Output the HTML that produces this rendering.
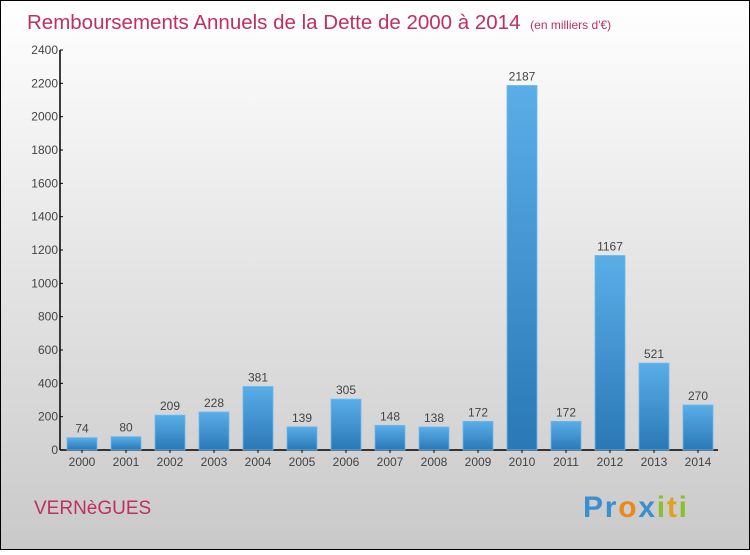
<!DOCTYPE html>
<html><head><meta charset="utf-8"><style>
html,body{margin:0;padding:0}
body{width:750px;height:550px;overflow:hidden}
</style></head><body>
<svg width="750" height="550" viewBox="0 0 750 550" font-family="'Liberation Sans', sans-serif">
<defs>
<linearGradient id="bg" x1="0" y1="0" x2="0" y2="1"><stop offset="0" stop-color="#ffffff"/><stop offset="1" stop-color="#c9c9c9"/></linearGradient>
<linearGradient id="bar" x1="0" y1="0" x2="0" y2="1"><stop offset="0" stop-color="#5aaee8"/><stop offset="1" stop-color="#2a78b6"/></linearGradient>
</defs>
<rect x="0.5" y="0.5" width="749" height="549" fill="url(#bg)" stroke="#000"/>
<text x="27" y="29" font-size="20.5" fill="#c0305e">Remboursements Annuels de la Dette de 2000 à 2014 <tspan font-size="12" dx="4">(en milliers d'€)</tspan></text>
<g id="yaxis"></g>
<g id="bars"></g>
<text x="34" y="514" font-size="19" fill="#c0305e">VERNèGUES</text>
<g font-size="30" font-weight="bold">
<text x="583" y="517" textLength="104"><tspan fill="#3a8fd0">Pr</tspan><tspan fill="#e88a1a">o</tspan><tspan fill="#3a8fd0">x</tspan><tspan fill="#8cbf2a">i</tspan><tspan fill="#e0a020">t</tspan><tspan fill="#8cbf2a">i</tspan></text>
</g>
</svg>
<script>
const categories=["2000","2001","2002","2003","2004","2005","2006","2007","2008","2009","2010","2011","2012","2013","2014"];
const values=[74,80,209,228,381,139,305,148,138,172,2187,172,1167,521,270];
const yTicks=[0,200,400,600,800,1000,1200,1400,1600,1800,2000,2200,2400];
const NS="http://www.w3.org/2000/svg";
const y0=450,yTop=50,yMax=2400,x0=60;
function y(v){return y0-(v/yMax)*(y0-yTop);}
function xc(i){return 82+i*44;}
function mk(t,a,p){const e=document.createElementNS(NS,t);for(const k in a)e.setAttribute(k,a[k]);p.appendChild(e);return e;}
const ya=document.getElementById('yaxis');
mk('line',{x1:x0,y1:yTop,x2:x0,y2:y0,stroke:'#000','stroke-width':1.5},ya);
mk('line',{x1:x0,y1:y0,x2:718,y2:y0,stroke:'#000','stroke-width':1.5},ya);
yTicks.forEach(v=>{
 const l=mk('line',{x1:x0,y1:y(v),x2:x0+3,y2:y(v),stroke:'#000'},ya);
 
 
 const t=mk('text',{x:x0-2,y:y(v)+4,'font-size':12,fill:'#444','text-anchor':'end'},ya);
 t.textContent=v;
 
 
});
const bg=document.getElementById('bars');
values.forEach((v,i)=>{
 const r=mk('rect',{x:xc(i)-15,y:y(v),width:30,height:y0-y(v),fill:'url(#bar)',stroke:'#6bb8ee','stroke-width':0.8},bg);
 
 
 const t=mk('text',{x:xc(i),y:y(v)-5,'font-size':12,fill:'#444','text-anchor':'middle'},bg);
 t.textContent=v;
 
 
 const c=mk('text',{x:xc(i),y:466,'font-size':12,fill:'#444','text-anchor':'middle'},bg);
 c.textContent=categories[i];
 
 
 const tk=mk('line',{x1:xc(i),y1:y0,x2:xc(i),y2:y0+3,stroke:'#000'},bg);
 
 
});
</script>
</body></html>
